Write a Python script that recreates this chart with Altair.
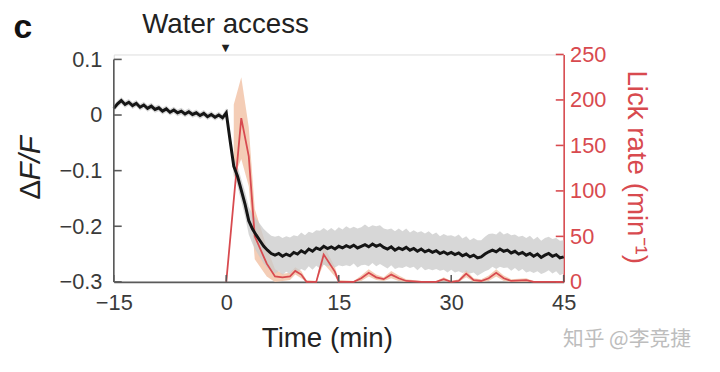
import altair as alt
import pandas as pd

# ---------------- data ----------------
# dF/F mean trace, sampled every 0.5 min from -15 to 45 min
df_t = [(-15 + 0.5 * i) for i in range(121)]
df_mean = [
    0.012, 0.020, 0.026, 0.019, 0.023, 0.017, 0.021, 0.014, 0.018, 0.012,
    0.016, 0.010, 0.013, 0.007, 0.011, 0.005, 0.009, 0.004, 0.007, 0.002,
    0.006, 0.001, 0.004, -0.001, 0.003, -0.003, 0.001, -0.004, 0.000, -0.005,
    0.004, -0.045, -0.092, -0.110, -0.135, -0.160, -0.190, -0.205, -0.216, -0.226,
    -0.236, -0.243, -0.249, -0.252, -0.249, -0.254, -0.250, -0.253, -0.247, -0.250,
    -0.244, -0.248, -0.241, -0.245, -0.239, -0.242, -0.236, -0.240, -0.237, -0.241,
    -0.236, -0.239, -0.235, -0.238, -0.234, -0.239, -0.236, -0.233, -0.237, -0.232,
    -0.236, -0.233, -0.238, -0.241, -0.237, -0.243, -0.239, -0.242, -0.238, -0.243,
    -0.240, -0.245, -0.241, -0.246, -0.243, -0.247, -0.244, -0.249, -0.246, -0.250,
    -0.247, -0.251, -0.248, -0.253, -0.250, -0.255, -0.252, -0.257, -0.255, -0.250,
    -0.246, -0.243, -0.246, -0.241, -0.245, -0.243, -0.248, -0.245, -0.250, -0.247,
    -0.252, -0.249, -0.254, -0.250, -0.256, -0.252, -0.249, -0.254, -0.251, -0.257,
    -0.255,
]
df_sem = [
    0.006, 0.006, 0.006, 0.006, 0.006, 0.006, 0.006, 0.006, 0.006, 0.006,
    0.006, 0.006, 0.006, 0.006, 0.006, 0.006, 0.006, 0.006, 0.006, 0.006,
    0.006, 0.006, 0.006, 0.006, 0.006, 0.006, 0.006, 0.006, 0.006, 0.006,
    0.008, 0.012, 0.015, 0.018, 0.020, 0.022, 0.025, 0.027, 0.029, 0.030,
    0.031, 0.032, 0.032, 0.033, 0.032, 0.033, 0.032, 0.033, 0.031, 0.032,
    0.033, 0.032, 0.031, 0.033, 0.032, 0.034, 0.033, 0.032, 0.034, 0.033,
    0.034, 0.033, 0.035, 0.034, 0.033, 0.035, 0.034, 0.036, 0.035, 0.034,
    0.036, 0.035, 0.034, 0.035, 0.033, 0.034, 0.035, 0.033, 0.034, 0.032,
    0.033, 0.034, 0.032, 0.033, 0.034, 0.032, 0.033, 0.031, 0.032, 0.033,
    0.031, 0.032, 0.033, 0.031, 0.032, 0.030, 0.031, 0.032, 0.030, 0.031,
    0.032, 0.030, 0.031, 0.032, 0.030, 0.031, 0.032, 0.030, 0.031, 0.030,
    0.031, 0.032, 0.030, 0.031, 0.030, 0.031, 0.030, 0.031, 0.030, 0.031,
    0.030,
]

# lick rate (min^-1)
lick_t = [0, 2, 3, 3.8, 5.4, 6.5, 7.5, 8.5, 9.2, 10, 10.7, 12, 13, 14.5, 15,
          17, 18, 19, 20, 21, 22, 23, 24, 26, 28, 29, 30, 31, 32, 33, 34, 35,
          36, 37, 38, 40, 41, 43, 45]
lick_val = [0, 180, 138, 50, 20, 6, 5, 6, 12, 8, 0, 0, 30, 11, 0,
            0, 4, 10, 5, 3, 8, 4, 1, 0, 0, 3, 0, 1, 9, 2, 1, 4,
            10, 4, 1, 2, 0, 0, 0]
lick_band_t = [1, 2, 3, 3.8, 5.4, 6.5, 7.5, 8.5, 9.2, 10, 10.7, 12, 13, 14.5, 15,
               17, 18, 19, 20, 21, 22, 23, 24, 26, 28, 29, 30, 31, 32, 33, 34, 35,
               36, 37, 38, 40, 41, 43, 45]
lick_lo = [115, 135, 105, 25, 6, 0, 1, 2, 8, 4, 0, 0, 20, 6, 0,
           0, 1, 6, 2, 1, 4, 1, 0, 0, 0, 1, 0, 0, 5, 0, 0, 1,
           6, 1, 0, 0, 0, 0, 0]
lick_hi = [195, 225, 170, 80, 38, 14, 9, 10, 16, 12, 2, 1, 40, 16, 2,
           1, 7, 14, 8, 5, 12, 7, 3, 1, 1, 5, 1, 3, 13, 4, 3, 7,
           14, 7, 3, 4, 1, 1, 1]

left_ticks = [-0.3, -0.2, -0.1, 0, 0.1]
right_ticks = [0, 50, 100, 150, 200, 250]
x_ticks = [-15, 0, 15, 30, 45]

# ---------------- chart ----------------
W, H = 455, 230
FONT = "Liberation Sans"
RED = "#d84a4f"
AX = "#5a5a5a"
TXT = "#3a3a3a"
TICKFS = 22

df = pd.DataFrame({"t": df_t, "m": df_mean, "s": df_sem})
df["lo"] = df["m"] - df["s"]
df["hi"] = df["m"] + df["s"]
lick = pd.DataFrame({"t": lick_t, "v": lick_val})
lband = pd.DataFrame({"t": lick_band_t, "lo": lick_lo, "hi": lick_hi})

xs = alt.Scale(domain=[-15, 45], nice=False, zero=False)
yA = alt.Scale(domain=[-0.3, 0.1 + 5 * 0.4 / 225], nice=False, zero=False)
yB = alt.Scale(domain=[0, 250], nice=False)

xaxis = alt.Axis(values=x_ticks, ticks=False, grid=False, domainColor=AX,
                 domainWidth=1.6, labelColor=TXT, labelFontSize=TICKFS, labelFont=FONT,
                 labelPadding=11, labelFlush=False,
                 labelExpr="replace(format(datum.value, 'd'), '-', '\u2212')",
                 title=None)

def X(field):
    return alt.X(field, type="quantitative", scale=xs, axis=xaxis, title=None)

red_band = alt.Chart(lband).mark_area(color="#f1c0a4", opacity=0.8).encode(
    x=X("t"),
    y=alt.Y("lo:Q", scale=yB, axis=alt.Axis(
        orient="right", values=right_ticks, ticks=False, grid=False,
        domainColor=RED, domainWidth=1.6, labelColor=RED, labelFontSize=TICKFS,
        labelFont=FONT, labelPadding=6, labelFlush=False, title=None)),
    y2="hi:Q",
)

gray_band = alt.Chart(df).mark_area(color="#c9c9c9", opacity=0.75).encode(
    x=X("t"),
    y=alt.Y("lo:Q", scale=yA, axis=alt.Axis(
        orient="left", values=left_ticks, ticks=False, grid=False, domain=False,
        labelColor=TXT, labelFontSize=TICKFS, labelFont=FONT, labelPadding=12,
        labelFlush=False,
        labelExpr="replace(format(datum.value, '.1~f'), '-', '\u2212')", title=None)),
    y2="hi:Q",
)

red_line = alt.Chart(lick).mark_line(color=RED, strokeWidth=1.8).encode(
    x=X("t"), y=alt.Y("v:Q", scale=yB, axis=None)
)

black_line = alt.Chart(df).mark_line(color="#151515", strokeWidth=3).encode(
    x=X("t"), y=alt.Y("m:Q", scale=yA, axis=None)
)

left_dom = alt.Chart(pd.DataFrame({"lo": [left_ticks[0]], "hi": [left_ticks[-1]]})).mark_rule(
    color=AX, strokeWidth=1.6).encode(
    x=alt.value(0), y=alt.Y("lo:Q", scale=yA, axis=None), y2="hi:Q")

lt = alt.Chart(pd.DataFrame({"v": left_ticks})).mark_rule(color=AX, strokeWidth=1.6).encode(
    x=alt.value(0), x2=alt.value(8), y=alt.Y("v:Q", scale=yA, axis=None))

rt = alt.Chart(pd.DataFrame({"v": right_ticks})).mark_rule(color=RED, strokeWidth=1.6).encode(
    x=alt.value(W - 8), x2=alt.value(W), y=alt.Y("v:Q", scale=yB, axis=None))

bt = alt.Chart(pd.DataFrame({"v": x_ticks})).mark_rule(color=AX, strokeWidth=1.6).encode(
    x=X("v"), y=alt.value(H), y2=alt.value(H - 7))

def txt(s, x, y, size, color=TXT, angle=0, style="normal", weight="normal", font=FONT):
    return alt.Chart(pd.DataFrame({"s": [s]})).mark_text(
        fontSize=size, color=color, angle=angle, fontStyle=style, fontWeight=weight,
        font=font, align="center", baseline="middle").encode(
        x=alt.value(x), y=alt.value(y), text="s:N")

texts = [
    txt("c", -92, -27, 34, color="#111", weight="bold"),
    txt("Water access", 113, -30, 28, color="#222"),
    txt("\u25bc", 113, -6, 10, color="#222", font="DejaVu Sans"),
    txt("Time (min)", 216, 288, 28, color="#222"),
    txt("\u0394", -84, 137, 30, color="#222", angle=270),
    txt("F/F", -84, 105, 30, color="#222", angle=270, style="italic"),
    txt("Lick rate (min\u207b\u00b9)", 528, 114, 28, color=RED, angle=90),
    txt("知乎 @李竞捷", 519, 289, 21, color="#bdbdbd", font="Noto Sans CJK SC"),
]

chart = alt.layer(
    red_band, gray_band, red_line, black_line, left_dom, lt, rt, bt, *texts
).resolve_scale(y="independent").properties(
    width=W, height=H,
    autosize=alt.AutoSizeParams(type="none"),
    padding={"left": 107, "top": 45, "right": 150, "bottom": 75},
).configure_view(stroke=None).configure(background="white")

chart.save("out.html", embed_options={"renderer": "svg", "actions": False})
